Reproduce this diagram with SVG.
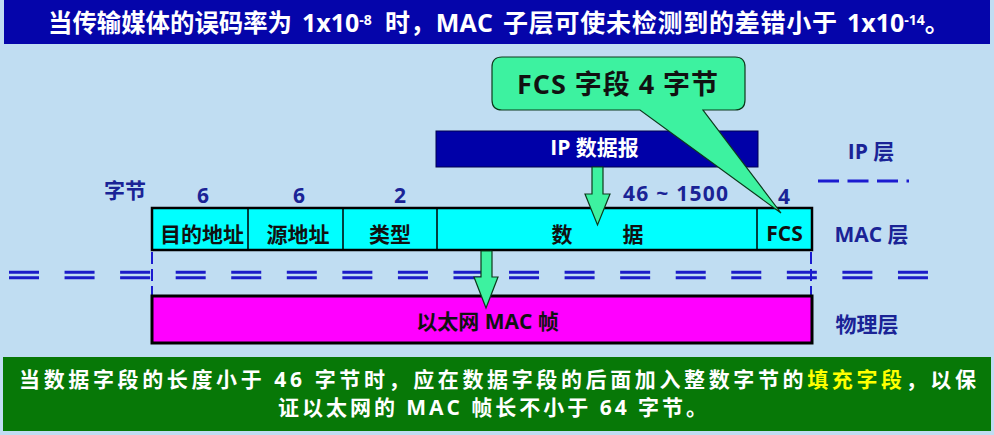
<svg xmlns="http://www.w3.org/2000/svg" width="994" height="435" viewBox="0 0 994 435">
<style>
  text { font-family: "Open Sans", "Noto Sans CJK SC", sans-serif; font-weight: bold; }
  .title { fill: #ffffff; font-size: 25px; }
  .sup { font-size: 14px; }
  .lbl { fill: #1a2396; font-size: 21px; text-anchor: middle; }
  .layer { fill: #1a2396; font-size: 21px; text-anchor: middle; }
  .field { fill: #111111; font-size: 21px; text-anchor: middle; }
  .foot { fill: #ffffff; font-size: 21px; }
  .hl { fill: #ffff00; }
  .mint { fill: #3df2a0; stroke: #0c3a1c; stroke-width: 1.2; }
  .dbl { stroke: #1b1bc8; stroke-width: 3; stroke-dasharray: 30 25.56; fill: none; }
  .vdash { stroke: #1b1bd0; stroke-width: 2; stroke-dasharray: 12 5; fill: none; }
</style>
<rect x="0" y="0" width="994" height="435" fill="#c0ddf2"/>

<g id="title-bar">
  <rect x="4" y="0" width="986" height="44" fill="#0505aa"/>
  <text class="title" x="48" y="32" textLength="244" lengthAdjust="spacingAndGlyphs">当传输媒体的误码率为</text>
  <text class="title" x="302" y="32">1x10<tspan class="sup" dy="-7">-8</tspan></text>
  <text class="title" x="385" y="32" textLength="108" lengthAdjust="spacing">时，MAC</text>
  <text class="title" x="503" y="32" textLength="334" lengthAdjust="spacing">子层可使未检测到的差错小于</text>
  <text class="title" x="847" y="32">1x10<tspan class="sup" dy="-7">-14</tspan><tspan dy="7">。</tspan></text>
</g>

<g id="layer-lines">
  <line class="dbl" x1="9" y1="272.3" x2="928" y2="272.3"/>
  <line class="dbl" x1="9" y1="277.7" x2="928" y2="277.7"/>
  <line class="vdash" x1="152" y1="252" x2="152" y2="296"/>
  <line class="vdash" x1="811" y1="252" x2="811" y2="296"/>
  <line x1="818" y1="181" x2="909" y2="181" stroke="#1b1bd0" stroke-width="3" stroke-dasharray="21 8.5"/>
</g>

<g id="ip-datagram">
  <rect x="436" y="131" width="322" height="36" fill="#0000a8" stroke="#000050" stroke-width="1"/>
  <text x="594.5" y="155" fill="#ffffff" font-size="21" text-anchor="middle">IP 数据报</text>
</g>

<g id="byte-labels">
  <text class="lbl" x="125" y="198" font-size="20">字节</text>
  <text class="lbl" x="203" y="203">6</text>
  <text class="lbl" x="299" y="203">6</text>
  <text class="lbl" x="400" y="203">2</text>
  <text class="lbl" x="623" y="201" style="text-anchor:start" textLength="105" lengthAdjust="spacing">46 ~ 1500</text>
  <text class="lbl" x="784" y="204">4</text>
</g>

<g id="mac-frame">
  <rect x="152" y="208" width="660" height="42" fill="#00ffff" stroke="#000000" stroke-width="2.5"/>
  <line x1="248" y1="208" x2="248" y2="250" stroke="#000" stroke-width="1.5"/>
  <line x1="343" y1="208" x2="343" y2="250" stroke="#000" stroke-width="1.5"/>
  <line x1="437" y1="208" x2="437" y2="250" stroke="#000" stroke-width="1.5"/>
  <line x1="757" y1="208" x2="757" y2="250" stroke="#000" stroke-width="1.5"/>
  <text class="field" x="202" y="242">目的地址</text>
  <text class="field" x="298" y="242">源地址</text>
  <text class="field" x="390" y="242">类型</text>
  <text class="field" x="562" y="242">数</text>
  <text class="field" x="633" y="242">据</text>
  <text class="field" x="784.5" y="241" font-size="20">FCS</text>
</g>

<g id="phy-frame">
  <rect x="152" y="296" width="660" height="47" fill="#ff00ff" stroke="#000000" stroke-width="3"/>
  <text class="field" x="487.5" y="329">以太网 MAC 帧</text>
</g>

<g id="layer-names">
  <text class="layer" x="871" y="159">IP 层</text>
  <text class="layer" x="871.5" y="242">MAC 层</text>
  <text class="layer" x="867" y="332">物理层</text>
</g>

<g id="connectors">
  <path class="mint" d="M592,167 H603 V194 H610 L597.5,225 L585,194 H592 Z"/>
  <path class="mint" d="M481,251 H492 V277 H498 L486,308 L474,277 H481 Z"/>
</g>

<g id="fcs-callout">
  <path class="mint" d="M502,57 H735 Q745,57 745,67 V100 Q745,110 735,110 H703 L781,213 L640,110 H502 Q492,110 492,100 V67 Q492,57 502,57 Z"/>
  <text x="617.5" y="94" fill="#111111" font-size="27" text-anchor="middle" textLength="201" lengthAdjust="spacing">FCS 字段 4 字节</text>
</g>

<g id="footer">
  <rect x="3" y="357" width="988" height="74" fill="#077807"/>
  <text class="foot" x="19" y="387" textLength="957" lengthAdjust="spacing">当数据字段的长度小于 46 字节时，应在数据字段的后面加入整数字节的<tspan class="hl">填充字段</tspan>，以保</text>
  <text class="foot" x="278" y="415" textLength="429" lengthAdjust="spacing">证以太网的 MAC 帧长不小于 64 字节。</text>
</g>
</svg>
